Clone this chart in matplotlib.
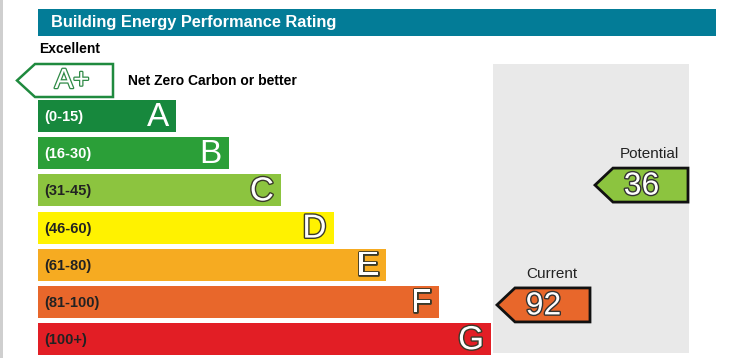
import matplotlib.pyplot as plt
from matplotlib.patches import Polygon, Rectangle
import matplotlib.patheffects as pe

# ===== 数据 =====
band_letters = ["A", "B", "C", "D", "E", "F", "G"]
band_ranges = ["(0-15)", "(16-30)", "(31-45)", "(46-60)", "(61-80)", "(81-100)", "(100+)"]
band_lower = [0, 16, 31, 46, 61, 81, 100]
band_upper = [15, 30, 45, 60, 80, 100, 120]
band_colors = ["#17883d", "#2b9f38", "#8cc43f", "#fff200", "#f6ab21", "#e8672b", "#e21e25"]
range_text_colors = ["white", "white", "#222222", "#222222", "#222222", "#222222", "#222222"]

current_score = 92
potential_score = 36

title = "Building Energy Performance Rating"

plt.rcParams['font.family'] = ['Liberation Sans', 'DejaVu Sans']

fig = plt.figure(figsize=(7.5, 3.58), dpi=100)
ax = fig.add_axes([0, 0, 1, 1])
ax.set_xlim(0, 750)
ax.set_ylim(358, 0)
ax.axis('off')


def band_of(score):
    for i, up in enumerate(band_upper):
        if score <= up:
            return i
    return len(band_upper) - 1


# ===== 布局 =====
x0 = 38
row0 = 116          # centre of band A
pitch = 37.2
bar_h = 32
w0 = 138
dw = 52.5

# left grey edge
ax.add_patch(Rectangle((0, 0), 3, 358, color="#cfcfcf", lw=0))

# title bar
ax.add_patch(Rectangle((38, 9), 678, 27, color="#037c97", lw=0))
ax.text(51, 23, title, color="white", fontsize=11.8, fontweight="bold", va="center")

ax.text(39, 49, "Excellent", fontsize=10, fontweight="bold", va="center")

# grey panel
ax.add_patch(Rectangle((493, 64), 196, 289, color="#e9e9e9", lw=0))

# A+ arrow
ax.add_patch(Polygon([(17, 80.5), (35, 64), (113, 64), (113, 97), (35, 97)],
                     closed=True, facecolor="white", edgecolor="#1f8a3e", lw=1.8))
ax.text(72, 81, "A+", fontsize=20, color="white", ha="center", va="center",
        path_effects=[pe.withStroke(linewidth=1.8, foreground="#2f8a46")])
ax.text(128, 81, "Net Zero Carbon or better", fontsize=10, fontweight="bold", va="center")

# ===== 等级条 =====
ys = [row0 + i * pitch for i in range(len(band_letters))]
widths = [w0 + i * dw for i in range(len(band_letters))]
ax.barh(ys, widths, left=x0, height=bar_h, color=band_colors, lw=0)

for i, letter in enumerate(band_letters):
    y = ys[i]
    ax.text(x0 + 6, y + 1, band_ranges[i], fontsize=10.5, fontweight="bold",
            color=range_text_colors[i], va="center")
    effects = [] if i < 2 else [pe.withStroke(linewidth=2, foreground="#3a3a2a")]
    ax.text(x0 + widths[i] - 7, y + 1.5, letter, fontsize=24, color="white",
            ha="right", va="center", path_effects=effects)


# ===== 评分箭头 =====
def score_arrow(score, tip_x, right_x, label):
    i = band_of(score)
    frac = (score - band_lower[i]) / (band_upper[i] - band_lower[i])
    y = ys[i] - pitch / 2 + frac * pitch
    top, bot = y - 17, y + 17
    ax.add_patch(Polygon([(tip_x, y), (tip_x + 18, top), (right_x, top), (right_x, bot), (tip_x + 18, bot)],
                         closed=True, facecolor=band_colors[i], edgecolor="#111111", lw=2))
    ax.text((tip_x + right_x) / 2, y + 1.5, str(score), fontsize=23, color="white",
            ha="center", va="center",
            path_effects=[pe.withStroke(linewidth=2, foreground="#333333")])
    ax.text((tip_x + 18 + right_x) / 2 - 1, top - 14, label, fontsize=11, ha="center", va="center",
            color="#222222")


score_arrow(potential_score, 595, 688, "Potential")
score_arrow(current_score, 497, 590, "Current")

plt.savefig("out.png", dpi=100)
plt.close()
